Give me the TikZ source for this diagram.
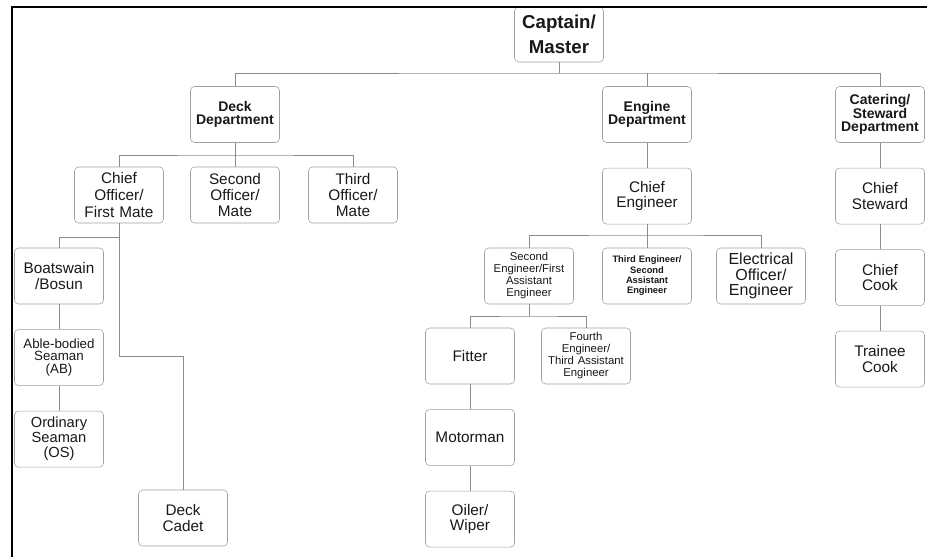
\documentclass[tikz,border=0pt]{standalone}
\usepackage{fontspec}
\setmainfont{Liberation Sans}
\usepackage{tikz}
\usetikzlibrary{positioning}
\usepackage{xcolor}
\definecolor{boxgray}{RGB}{160,160,160}
\definecolor{linegray}{RGB}{140,140,140}
\definecolor{inkblack}{RGB}{25,25,25}
\tikzstyle{rank} = [rectangle, rounded corners=3pt, draw=boxgray, fill=white, minimum width=66.75pt,
    minimum height=42pt, text width=64pt, inner sep=1pt, align=center, text=inkblack,
    font=\fontsize{11.5}{11.8}\selectfont]
\tikzstyle{dept} = [rank, font=\fontsize{10.5}{10}\selectfont\bfseries]
\tikzstyle{ranksmall} = [rank, font=\fontsize{8.5}{9}\selectfont]
\tikzstyle{link} = [draw=linegray, line width=0.6pt]
\tikzstyle{frame} = [draw=black, line width=1.5pt]

\begin{document}
\begin{tikzpicture}[x=0.75pt, y=-0.75pt, node distance=18.75pt]
\useasboundingbox (0,0) rectangle (927,557);

% top and departments
\node[rank, font=\fontsize{14}{18.75}\selectfont\bfseries, minimum height=41.25pt] (cap) at (559,34.5) {Captain/\\Master};
\node[dept] (deck) at (235,114.5) {Deck\\Department};
\node[dept] (engine) at (647,114.5) {Engine\\Department};
\node[dept] (cater) at (880,114.5) {Catering/\\Steward\\Department};

% deck side
\node[rank, font=\fontsize{11.5}{12.5}\selectfont] (chiefoff) at (119,195) {Chief\\Officer/\\First Mate};
\node[rank] (secoff) at (235,195) {Second\\Officer/\\Mate};
\node[rank] (thirdoff) at (353,195) {Third\\Officer/\\Mate};
\node[rank] (boatswain) at (59,276) {Boatswain\\/Bosun};
\node[rank, font=\fontsize{10}{9.6}\selectfont, below=of boatswain] (ab) {Able-bodied\\Seaman\\(AB)};
\node[rank, font=\fontsize{11}{11.3}\selectfont, below=of ab] (os) {Ordinary\\Seaman\\(OS)};
\node[rank] (cadet) at (183,518) {Deck\\Cadet};

% engine side
\node[rank, below=of engine] (chiefeng) {Chief\\Engineer};
\node[ranksmall] (seceng) at (529,276) {Second\\Engineer/First\\Assistant\\Engineer};
\node[rank, font=\fontsize{7}{7.8}\selectfont\bfseries] (thirdeng) at (647,276) {Third Engineer/\\Second\\Assistant\\Engineer};
\node[rank, font=\fontsize{12}{11.5}\selectfont] (elec) at (761,276) {Electrical\\Officer/\\Engineer};
\node[rank] (fitter) at (470,356) {Fitter};
\node[ranksmall] (fourth) at (586,356) {Fourth\\Engineer/\\Third Assistant\\Engineer};
\node[rank, below=of fitter] (motorman) {Motorman};
\node[rank, below=of motorman] (oiler) {Oiler/\\Wiper};

% catering side
\node[rank, below=of cater] (steward) {Chief\\Steward};
\node[rank, below=of steward] (cook) {Chief\\Cook};
\node[rank, below=of cook] (trainee) {Trainee\\Cook};

% bus points
\coordinate (topbus) at (559,73);
\coordinate (deckbus) at (235,155);
\coordinate (cobus) at (119,237);
\coordinate (cadetbus) at (119,356);
\coordinate (cebus) at (647,235);
\coordinate (sebus) at (529,316);

% connectors
\draw[link] (cap) -- (topbus);
\draw[link] (deck.north) |- (topbus) -| (cater.north);
\draw[link] (engine.north) -- (engine.north |- topbus);

\draw[link] (deck) -- (secoff);
\draw[link] (chiefoff.north) |- (deckbus) -| (thirdoff.north);
\draw[link] (chiefoff.south) -- (cadetbus) -| (cadet.north);
\draw[link] (cobus) -| (boatswain.north);
\draw[link] (boatswain) -- (ab);
\draw[link] (ab) -- (os);

\draw[link] (engine) -- (chiefeng);
\draw[link] (chiefeng) -- (thirdeng);
\draw[link] (seceng.north) |- (cebus) -| (elec.north);
\draw[link] (seceng.south) -- (sebus);
\draw[link] (fitter.north) |- (sebus) -| (fourth.north);
\draw[link] (fitter) -- (motorman);
\draw[link] (motorman) -- (oiler);

\draw[link] (cater) -- (steward);
\draw[link] (steward) -- (cook);
\draw[link] (cook) -- (trainee);

% outer frame
\draw[frame] (12,557) -- (12,7) -- (927,7);
\end{tikzpicture}
\end{document}
